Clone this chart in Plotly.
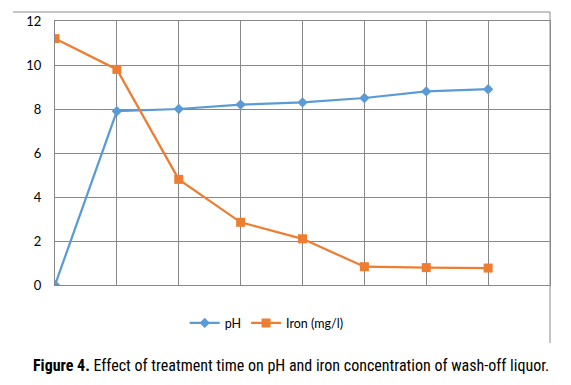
import plotly.graph_objects as go

categories = [0, 1, 2, 3, 4, 5, 6, 7]
ph_values = [0, 7.9, 8.0, 8.2, 8.3, 8.5, 8.8, 8.9]
iron_values = [11.2, 9.8, 4.8, 2.85, 2.1, 0.83, 0.79, 0.77]
y_ticks = [0, 2, 4, 6, 8, 10, 12]

fig = go.Figure()
fig.add_trace(go.Scatter(
    x=categories, y=ph_values, name="pH", mode="lines+markers",
    line=dict(color="#5B9BD5", width=2.25),
    marker=dict(symbol="diamond", size=8, color="#5B9BD5")))
fig.add_trace(go.Scatter(
    x=categories, y=iron_values, name="Iron (mg/l)", mode="lines+markers",
    line=dict(color="#ED7D31", width=2.25),
    marker=dict(symbol="square", size=9, color="#ED7D31")))

grid = "#878787"
# page body has an 8px margin, so the figure is sized/offset to compensate
fig.update_layout(
    width=563, height=377,
    margin=dict(l=47, r=21, t=13, b=100, autoexpand=False),
    paper_bgcolor="white", plot_bgcolor="white",
    font=dict(family="Lato, Open Sans, sans-serif", size=13, color="#000000"),
    showlegend=True,
    legend=dict(orientation="h", x=0.262, xanchor="left", y=-0.145, yanchor="middle",
                font=dict(size=12.5), itemwidth=30, tracegroupgap=0),
    xaxis=dict(range=[0, 8], dtick=1, tick0=0, showticklabels=False, automargin=False,
               showgrid=True, gridcolor=grid, gridwidth=1, zeroline=False,
               showline=True, linecolor=grid, linewidth=1, mirror=True),
    yaxis=dict(range=[0, 12], tickvals=y_ticks, showgrid=True, gridcolor=grid,
               gridwidth=1, zeroline=False, showline=True, linecolor=grid,
               linewidth=1, mirror=True, ticks="outside", ticklen=10, automargin=False,
               tickcolor="rgba(0,0,0,0)", tickfont=dict(size=13)),
    shapes=[
        dict(type="line", xref="paper", yref="paper", x0=-0.085, x1=1, y0=1.034, y1=1.034,
             line=dict(color="#8c8c8c", width=1)),
        dict(type="line", xref="paper", yref="paper", x0=1, x1=1, y0=-0.22, y1=1.034,
             line=dict(color="#8c8c8c", width=1)),
    ],
    annotations=[dict(
        xref="paper", yref="paper", x=0.476, y=-0.305, xanchor="center", yanchor="middle",
        showarrow=False,
        text="<b>Figure 4.</b> Effect of treatment time on pH and iron concentration of wash-off liquor.",
        font=dict(family="Liberation Sans Narrow, Roboto Condensed, Liberation Sans, sans-serif",
                  size=16, color="#000000"))],
)

fig.write_html("out.html")
